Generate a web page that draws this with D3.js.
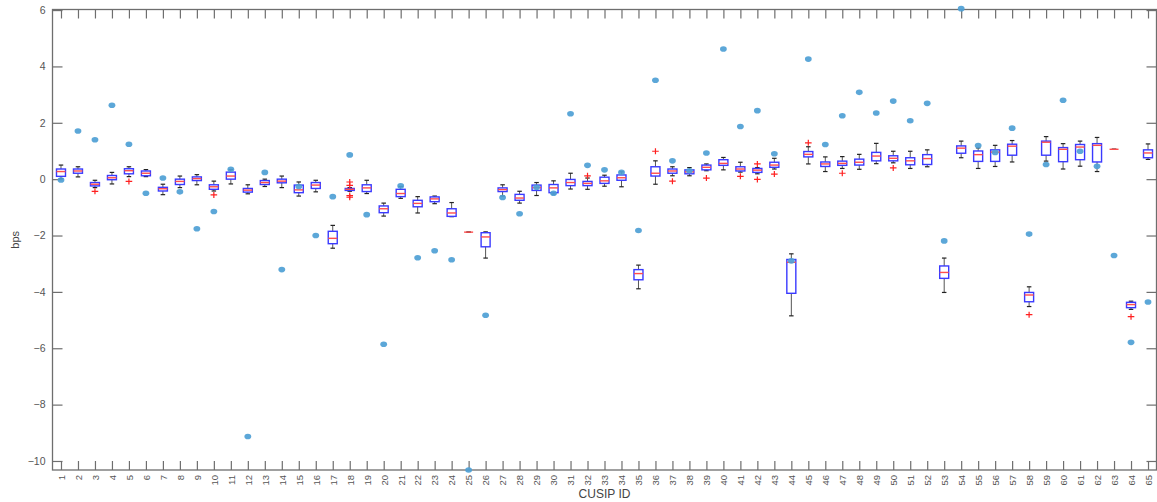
<!DOCTYPE html>
<html>
<head>
<meta charset="utf-8">
<script src="https://cdn.jsdelivr.net/npm/d3@7"></script>
<style>
  body { margin: 0; background: #fff; }
  svg text { font-family: "Liberation Sans", Arial, sans-serif; }
</style>
</head>
<body>
<script>
// CUSIP ids (categories)
const cusipIds = [1,2,3,4,5,6,7,8,9,10,11,12,13,14,15,16,17,18,19,20,21,22,23,24,25,26,27,28,29,30,31,32,33,
  34,35,36,37,38,39,40,41,42,43,44,45,46,47,48,49,50,51,52,53,54,55,56,57,58,59,60,61,62,63,64,65];

// box statistics per CUSIP (bps)
const upperQuartile = [0.36,0.36,-0.12,0.13,0.37,0.29,-0.29,0.00,0.08,-0.20,0.25,-0.33,-0.05,0.00,-0.21,-0.12,-1.85,-0.33,-0.20,-0.95,
  -0.36,-0.75,-0.63,-1.05,-1.88,-1.90,-0.31,-0.54,-0.21,-0.19,-0.01,-0.08,0.07,0.15,-3.21,0.44,0.36,0.33,0.50,0.69,
  0.44,0.38,0.60,-2.85,0.98,0.61,0.64,0.71,0.95,0.83,0.76,0.87,-3.08,1.18,1.00,1.04,1.24,-4.02,1.35,1.12,
  1.23,1.26,1.06,-4.37,1.04];
const medians = [0.27,0.29,-0.18,0.05,0.30,0.21,-0.34,-0.08,0.02,-0.27,0.11,-0.39,-0.12,-0.07,-0.38,-0.21,-2.10,-0.36,-0.31,-1.05,
  -0.51,-0.86,-0.70,-1.20,-1.88,-2.05,-0.37,-0.67,-0.30,-0.31,-0.12,-0.15,-0.06,0.05,-3.35,0.21,0.29,0.26,0.42,0.56,
  0.36,0.32,0.50,-2.95,0.88,0.54,0.56,0.60,0.82,0.74,0.65,0.73,-3.31,1.10,0.87,0.96,1.17,-4.11,1.31,1.06,
  1.14,1.20,1.06,-4.45,0.93];
const lowerQuartile = [0.10,0.21,-0.24,-0.02,0.19,0.12,-0.42,-0.19,-0.05,-0.36,0.00,-0.46,-0.19,-0.13,-0.48,-0.33,-2.29,-0.40,-0.44,-1.19,
  -0.62,-0.98,-0.80,-1.32,-1.88,-2.40,-0.44,-0.75,-0.40,-0.48,-0.23,-0.23,-0.15,-0.04,-3.57,0.11,0.21,0.19,0.33,0.49,
  0.29,0.24,0.42,-4.05,0.79,0.45,0.49,0.50,0.65,0.65,0.51,0.52,-3.52,0.92,0.63,0.63,0.85,-4.35,0.85,0.62,
  0.69,0.61,1.06,-4.56,0.76];
const whiskerHigh = [0.50,0.44,-0.04,0.24,0.44,0.34,-0.18,0.11,0.16,-0.07,0.34,-0.20,0.00,0.11,-0.10,-0.04,-1.64,-0.30,-0.04,-0.85,
  -0.26,-0.62,-0.60,-0.83,-1.88,-1.87,-0.20,-0.43,-0.12,-0.06,0.21,0.04,0.14,0.26,-3.05,0.65,0.44,0.41,0.54,0.77,
  0.60,0.41,0.74,-2.65,1.15,0.79,0.80,0.88,1.27,0.99,0.99,1.04,-2.80,1.35,1.11,1.20,1.37,-3.82,1.51,1.26,
  1.35,1.48,1.06,-4.33,1.25];
const whiskerLow = [0.02,0.08,-0.30,-0.17,0.09,0.09,-0.55,-0.30,-0.20,-0.42,-0.17,-0.52,-0.26,-0.30,-0.60,-0.45,-2.45,-0.43,-0.51,-1.31,
  -0.68,-1.20,-0.87,-1.33,-1.88,-2.80,-0.60,-0.85,-0.58,-0.53,-0.35,-0.36,-0.25,-0.27,-3.89,-0.18,0.12,0.12,0.30,0.33,
  0.25,0.19,0.36,-4.85,0.54,0.27,0.38,0.35,0.55,0.58,0.38,0.44,-4.02,0.76,0.38,0.45,0.61,-4.52,0.64,0.36,
  0.46,0.27,1.06,-4.62,0.70];
// outliers (red +) per CUSIP
const outliers = [[],[],[-0.43],[],[-0.08],[],[],[],[],[-0.56],[],[],[],[],[],[],[],[-0.10,-0.22,-0.58,-0.64],[],[],
  [],[],[],[],[],[],[],[],[],[],[],[0.12],[],[],[],[0.99],[-0.07],[],[0.04],[],
  [0.10],[0.54,-0.01],[0.18],[],[1.29],[],[0.21],[],[],[0.40],[],[],[],[],[],[],[],[-4.81],[],[],
  [],[],[],[-4.88],[]];
// comparison points (blue dots)
const pointValues = [-0.03,1.71,1.40,2.62,1.24,-0.50,0.04,-0.45,-1.76,-1.15,0.35,-9.13,0.24,-3.21,-0.26,-2.00,-0.62,0.86,-1.26,-5.86,
  -0.24,-2.79,-2.54,-2.86,-10.32,-4.83,-0.65,-1.23,-0.29,-0.50,2.32,0.49,0.33,0.24,-1.82,3.51,0.65,0.30,0.93,4.62,
  1.87,2.43,0.90,-2.90,4.26,1.23,2.25,3.08,2.35,2.77,2.07,2.69,-2.19,6.05,1.19,0.95,1.81,-1.95,0.52,2.80,
  0.99,0.46,-2.71,-5.79,-4.36];
const yTicks = [-10,-8,-6,-4,-2,0,2,4,6];

const width = 1157, height = 502;
const plotLeft = 52.5, plotRight = 1156.5, plotTop = 9.5, plotBottom = 470;

const rows = cusipIds.map((id, i) => ({
  id, q1: lowerQuartile[i], med: medians[i], q3: upperQuartile[i],
  lo: whiskerLow[i], hi: whiskerHigh[i], out: outliers[i], pt: pointValues[i]
}));

const x = d3.scaleLinear().domain([0.5, 65.5]).range([plotLeft, plotRight]);
const y = d3.scaleLinear().domain([-10.32, 6.02]).range([plotBottom, plotTop]);

const boxW = 9, capW = 4.5;

const svg = d3.select("body").append("svg")
  .attr("width", width)
  .attr("height", height)
  .attr("viewBox", [0, 0, width, height]);

const axisColor = "#6e6e6e";

// frame
svg.append("rect")
  .attr("x", plotLeft).attr("y", plotTop)
  .attr("width", plotRight - plotLeft).attr("height", plotBottom - plotTop)
  .attr("fill", "none").attr("stroke", axisColor).attr("stroke-width", 1.3);

// Y axis (left, ticks inward)
svg.append("g")
  .attr("transform", `translate(${plotLeft},0)`)
  .call(d3.axisLeft(y).tickValues(yTicks).tickSize(-10).tickPadding(7).tickFormat(d3.format("d")))
  .call(g => g.select(".domain").remove())
  .call(g => g.selectAll("line").attr("stroke", axisColor).attr("stroke-width", 1.2))
  .call(g => g.selectAll("text").attr("fill", "#555").attr("font-size", 10.5));

// right mirror ticks
svg.append("g")
  .attr("transform", `translate(${plotRight},0)`)
  .call(d3.axisRight(y).tickValues(yTicks).tickSize(-10).tickFormat(""))
  .call(g => g.select(".domain").remove())
  .call(g => g.selectAll("line").attr("stroke", axisColor).attr("stroke-width", 1.2));

// X axis (bottom, ticks inward, rotated labels)
svg.append("g")
  .attr("transform", `translate(0,${plotBottom})`)
  .call(d3.axisBottom(x).tickValues(cusipIds).tickSize(-9).tickFormat(d3.format("d")))
  .call(g => g.select(".domain").remove())
  .call(g => g.selectAll("line").attr("stroke", axisColor).attr("stroke-width", 1.2))
  .call(g => g.selectAll("text")
    .attr("fill", "#555")
    .attr("font-size", 9.5)
    .attr("transform", "rotate(-90)")
    .attr("text-anchor", "end")
    .attr("x", -5)
    .attr("y", 0)
    .attr("dy", "0.35em"));

// top mirror ticks
svg.append("g")
  .attr("transform", `translate(0,${plotTop})`)
  .call(d3.axisTop(x).tickValues(cusipIds).tickSize(-9).tickFormat(""))
  .call(g => g.select(".domain").remove())
  .call(g => g.selectAll("line").attr("stroke", axisColor).attr("stroke-width", 1.2));

// axis titles
svg.append("text")
  .attr("x", (plotLeft + plotRight) / 2)
  .attr("y", 498)
  .attr("text-anchor", "middle")
  .attr("font-size", 12)
  .attr("fill", "#444")
  .text("CUSIP ID");

svg.append("text")
  .attr("transform", `translate(19,${(plotTop + plotBottom) / 2}) rotate(-90)`)
  .attr("text-anchor", "middle")
  .attr("font-size", 11)
  .attr("fill", "#444")
  .text("bps");

// boxplots
const boxes = svg.append("g").attr("class", "boxes")
  .selectAll("g")
  .data(rows)
  .join("g")
  .attr("transform", d => `translate(${x(d.id)},0)`);

// whiskers
boxes.append("line")
  .attr("y1", d => y(d.q3)).attr("y2", d => y(d.hi))
  .attr("stroke", "#555").attr("stroke-width", 1);
boxes.append("line")
  .attr("y1", d => y(d.q1)).attr("y2", d => y(d.lo))
  .attr("stroke", "#555").attr("stroke-width", 1);
boxes.append("line")
  .attr("x1", -capW / 2).attr("x2", capW / 2)
  .attr("y1", d => y(d.hi)).attr("y2", d => y(d.hi))
  .attr("stroke", "#222").attr("stroke-width", 1.2);
boxes.append("line")
  .attr("x1", -capW / 2).attr("x2", capW / 2)
  .attr("y1", d => y(d.lo)).attr("y2", d => y(d.lo))
  .attr("stroke", "#222").attr("stroke-width", 1.2);

// box
boxes.filter(d => d.q3 !== d.q1)
  .append("rect")
  .attr("x", -boxW / 2)
  .attr("y", d => y(d.q3))
  .attr("width", boxW)
  .attr("height", d => y(d.q1) - y(d.q3))
  .attr("fill", "none")
  .attr("stroke", "#3a3aff")
  .attr("stroke-width", 1.4);

// median
boxes.append("line")
  .attr("x1", -boxW / 2).attr("x2", boxW / 2)
  .attr("y1", d => y(d.med)).attr("y2", d => y(d.med))
  .attr("stroke", "#ff4d4d").attr("stroke-width", 1.4);

// outliers
boxes.selectAll("path.out")
  .data(d => d.out)
  .join("path")
  .attr("class", "out")
  .attr("d", v => `M-3.3,${y(v)}h6.6M0,${y(v) - 3}v6`)
  .attr("stroke", "#ff2020")
  .attr("stroke-width", 1.2);

// blue points
svg.append("g").attr("class", "points")
  .selectAll("ellipse")
  .data(rows)
  .join("ellipse")
  .attr("cx", d => x(d.id))
  .attr("cy", d => y(d.pt))
  .attr("rx", 3.4)
  .attr("ry", 2.8)
  .attr("fill", "#4e9fd5")
  .attr("fill-opacity", 0.92);
</script>
</body>
</html>
